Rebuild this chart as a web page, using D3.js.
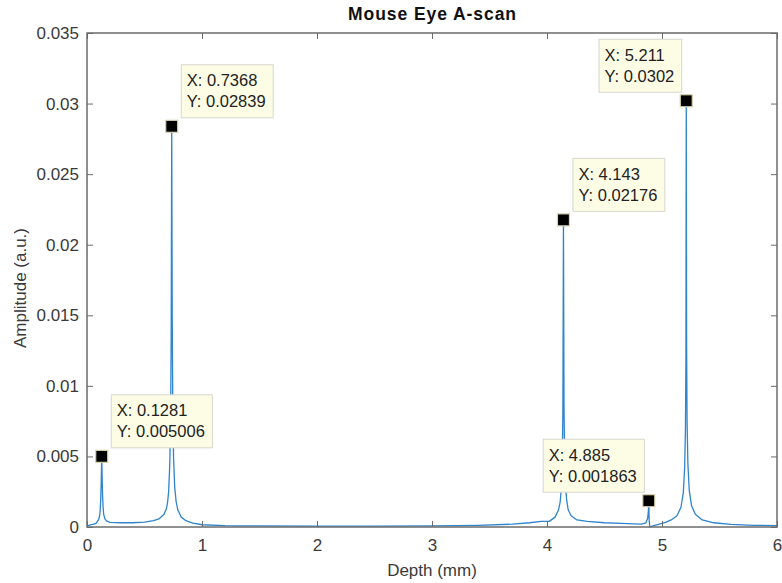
<!DOCTYPE html>
<html>
<head>
<meta charset="utf-8">
<script src="https://cdn.jsdelivr.net/npm/d3@7"></script>
<style>
  html, body { margin: 0; padding: 0; background: #fff; }
  svg { display: block; font-family: "Liberation Sans", Arial, Helvetica, sans-serif; }
</style>
</head>
<body>
<svg id="chart" width="782" height="583"></svg>
<script>
// A-scan amplitude profile sampled along depth (mm)
const depth = [
  0, 0.03, 0.06, 0.08, 0.10, 0.11, 0.115, 0.12, 0.124, 0.1281, 0.132, 0.136, 0.14, 0.145, 0.155, 0.17,
  0.2, 0.3, 0.4, 0.5, 0.58, 0.63, 0.67, 0.69, 0.70, 0.71, 0.72, 0.727, 0.732, 0.7368, 0.741, 0.746,
  0.753, 0.763, 0.775, 0.79, 0.82, 0.86, 0.92, 1.0, 1.2, 1.5, 2.0, 2.5, 3.0, 3.4, 3.7, 3.85, 3.95,
  4.02, 4.07, 4.10, 4.115, 4.125, 4.133, 4.138, 4.143, 4.148, 4.153, 4.161, 4.171, 4.185, 4.21, 4.26,
  4.35, 4.5, 4.65, 4.75, 4.82, 4.86, 4.875, 4.882, 4.885, 4.888, 4.893, 4.9, 4.93, 4.97, 5.03, 5.08,
  5.13, 5.165, 5.185, 5.197, 5.204, 5.208, 5.211, 5.214, 5.218, 5.225, 5.237, 5.257, 5.29, 5.35,
  5.45, 5.6, 5.8, 6.0
];
const amplitude = [
  0.00008, 0.00015, 0.0002, 0.00028, 0.0005, 0.0008, 0.0012, 0.0021, 0.0033, 0.005006, 0.0034, 0.0021, 0.0014, 0.0009, 0.0006, 0.00042,
  0.00033, 0.0003, 0.0003, 0.00035, 0.00045, 0.0006, 0.0009, 0.0013, 0.0017, 0.0025, 0.0045, 0.0075, 0.0135, 0.02839, 0.015, 0.0085,
  0.0048, 0.0028, 0.0018, 0.0012, 0.0007, 0.00045, 0.00028, 0.00016, 0.0001, 0.00008, 0.00006, 0.00006, 0.00008, 0.00012, 0.0002, 0.0003, 0.0004,
  0.0004, 0.0007, 0.0012, 0.0018, 0.0028, 0.0048, 0.008, 0.02176, 0.0085, 0.005, 0.003, 0.0019, 0.0012, 0.0008, 0.0005,
  0.0004, 0.0003, 0.00026, 0.00022, 0.0002, 0.0003, 0.0006, 0.0012, 0.001863, 0.0006, 0.0, 0.00002, 0.0001, 0.00018, 0.00033, 0.0005,
  0.0008, 0.0014, 0.0024, 0.0042, 0.007, 0.012, 0.0302, 0.013, 0.0075, 0.0045, 0.0026, 0.0015, 0.0009, 0.0005,
  0.0003, 0.00018, 0.00012, 0.0001
];

// Data tips placed on the peaks
const tipX = [0.1281, 0.7368, 4.143, 4.885, 5.211];
const tipY = [0.005006, 0.02839, 0.02176, 0.001863, 0.0302];
const tipXText = ["0.1281", "0.7368", "4.143", "4.885", "5.211"];
const tipYText = ["0.005006", "0.02839", "0.02176", "0.001863", "0.0302"];
const tipSide = ["right", "right", "right", "left", "left"];

const xTicks = [0, 1, 2, 3, 4, 5, 6];
const yTicks = [0, 0.005, 0.01, 0.015, 0.02, 0.025, 0.03, 0.035];
const yTickLabels = ["0", "0.005", "0.01", "0.015", "0.02", "0.025", "0.03", "0.035"];

const svg = d3.select("#chart");
const plotLeft = 87, plotRight = 777, plotTop = 33, plotBottom = 527;

const x = d3.scaleLinear().domain([0, 6]).range([plotLeft, plotRight]);
const y = d3.scaleLinear().domain([0, 0.035]).range([plotBottom, plotTop]);

const axisColor = "#6b6b6b";
const textColor = "#3a3a3a";

// curve
const line = d3.line().x((d, i) => x(depth[i])).y(d => y(d));
svg.append("path")
  .datum(amplitude)
  .attr("d", line)
  .attr("fill", "none")
  .attr("stroke", "#2f84cc")
  .attr("stroke-width", 1.3)
  .attr("stroke-linejoin", "round");

// axes with inward ticks on all four sides
const tickLen = 6;
const xb = svg.append("g").attr("transform", `translate(0,${plotBottom})`)
  .call(d3.axisBottom(x).tickValues(xTicks).tickSizeInner(-tickLen).tickSizeOuter(0).tickPadding(14).tickFormat(d3.format("d")));
const xt = svg.append("g").attr("transform", `translate(0,${plotTop})`)
  .call(d3.axisTop(x).tickValues(xTicks).tickSizeInner(-tickLen).tickSizeOuter(0).tickFormat(""));
const yl = svg.append("g").attr("transform", `translate(${plotLeft},0)`)
  .call(d3.axisLeft(y).tickValues(yTicks).tickSizeInner(-tickLen).tickSizeOuter(0).tickPadding(8)
    .tickFormat((d, i) => yTickLabels[i]));
const yr = svg.append("g").attr("transform", `translate(${plotRight},0)`)
  .call(d3.axisRight(y).tickValues(yTicks).tickSizeInner(-tickLen).tickSizeOuter(0).tickFormat(""));

[xb, xt, yl, yr].forEach(g => {
  g.select(".domain").remove();
  g.selectAll(".tick line").attr("stroke", axisColor).attr("stroke-width", 1);
  g.selectAll("text").attr("fill", textColor).attr("font-size", 17)
    .attr("font-family", "'Liberation Sans', Arial, Helvetica, sans-serif");
});
xb.selectAll(".tick text").attr("dy", "0.71em").attr("y", 12);

svg.append("rect")
  .attr("x", plotLeft).attr("y", plotTop)
  .attr("width", plotRight - plotLeft).attr("height", plotBottom - plotTop)
  .attr("fill", "none")
  .attr("stroke", axisColor)
  .attr("stroke-width", 1.5);

// titles
svg.append("text")
  .attr("x", (plotLeft + plotRight) / 2).attr("y", 20)
  .attr("text-anchor", "middle")
  .attr("font-size", 17.5).attr("font-weight", "bold")
  .attr("fill", "#111")
  .attr("textLength", 168).attr("lengthAdjust", "spacing")
  .text("Mouse Eye A-scan");

svg.append("text")
  .attr("x", (plotLeft + plotRight) / 2).attr("y", 576)
  .attr("text-anchor", "middle")
  .attr("font-size", 17).attr("fill", textColor)
  .text("Depth (mm)");

svg.append("text")
  .attr("transform", `translate(26,${(plotTop + plotBottom) / 2 + 8}) rotate(-90)`)
  .attr("text-anchor", "middle")
  .attr("font-size", 17).attr("fill", textColor)
  .text("Amplitude (a.u.)");

// data tips
tipX.forEach((tx, i) => {
  const px = x(tx), py = y(tipY[i]);
  const g = svg.append("g");
  const box = g.append("rect")
    .attr("fill", "#fdfde6")
    .attr("stroke", "#d6d6cc")
    .attr("stroke-width", 1);
  const t1 = g.append("text").attr("font-size", 16.5).attr("fill", "#222").text("X: " + tipXText[i]);
  const t2 = g.append("text").attr("font-size", 16.5).attr("fill", "#222").text("Y: " + tipYText[i]);
  const w = Math.max(t1.node().getComputedTextLength(), t2.node().getComputedTextLength()) + 13;
  const h = 53;
  const bx = tipSide[i] === "right" ? px + 9 : px - 5 - w;
  const by = py - 9 - h;
  box.attr("x", bx + 0.5).attr("y", by + 0.5).attr("width", w).attr("height", h);
  t1.attr("x", bx + 6).attr("y", by + 22);
  t2.attr("x", bx + 6).attr("y", by + 43);

  svg.append("rect")
    .attr("x", px - 6).attr("y", py - 6)
    .attr("width", 12).attr("height", 12)
    .attr("fill", "#000")
    .attr("stroke", "#d8d3b0")
    .attr("stroke-width", 1.2);
});
</script>
</body>
</html>
